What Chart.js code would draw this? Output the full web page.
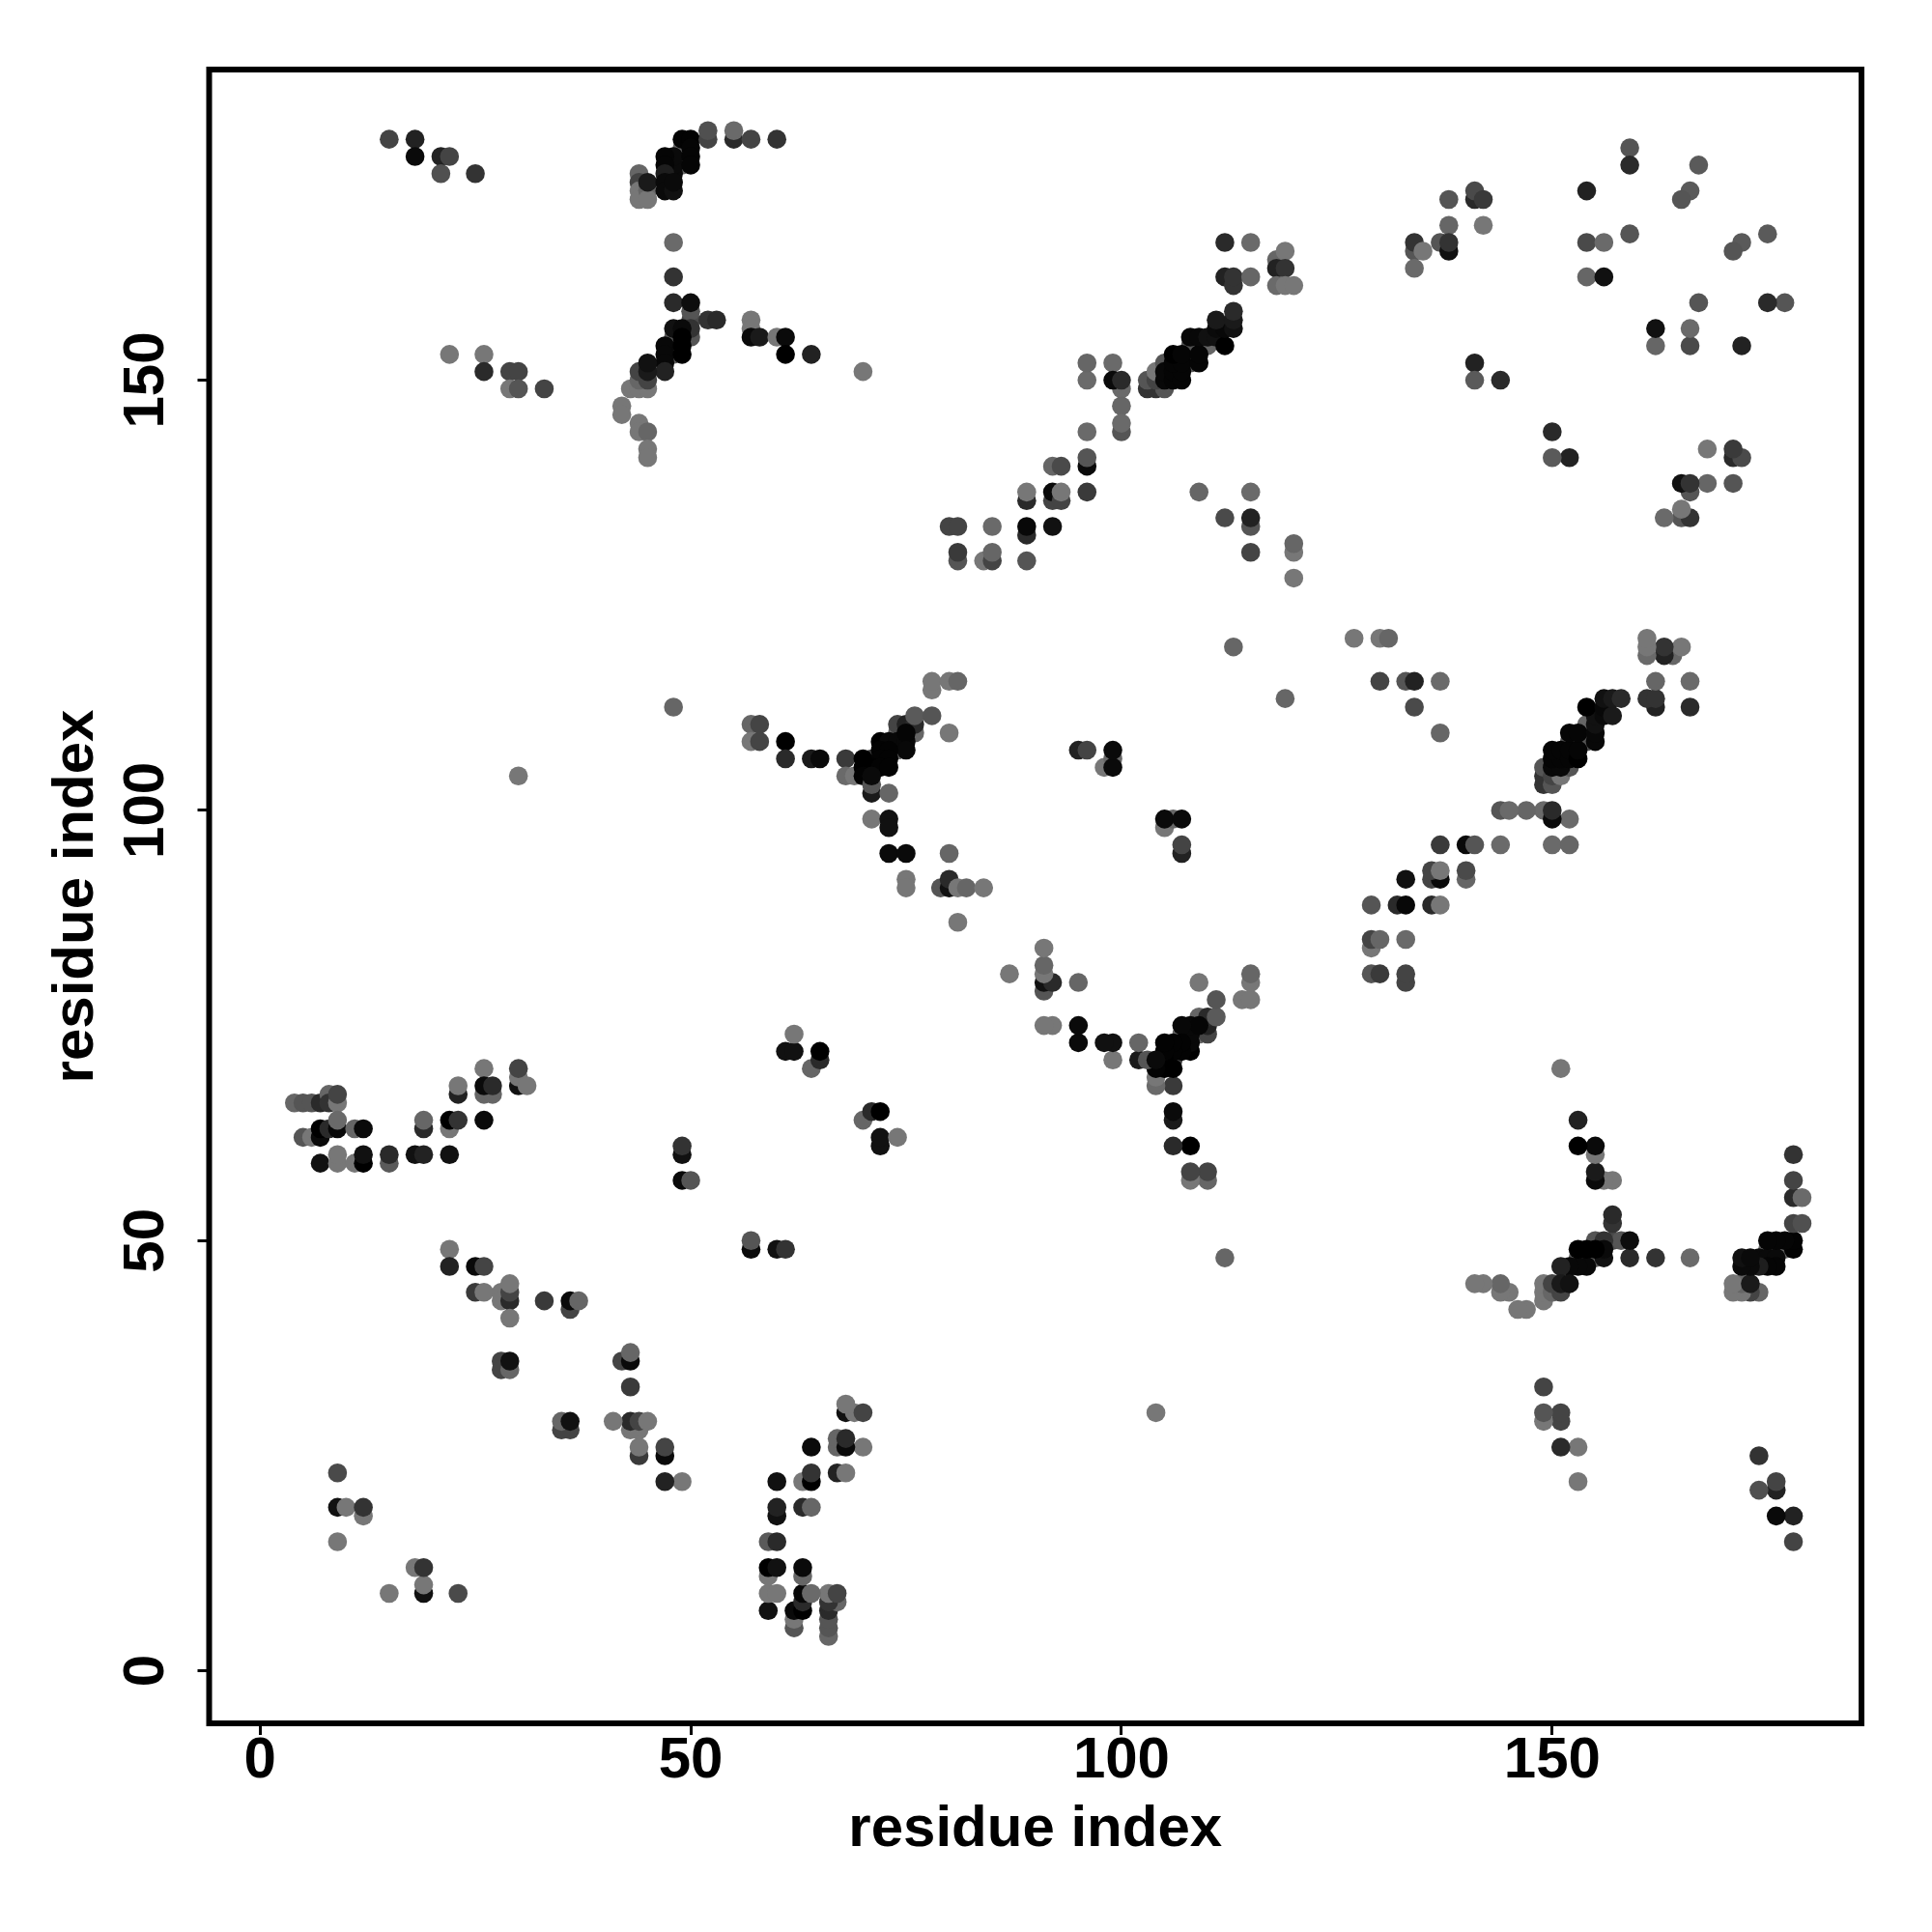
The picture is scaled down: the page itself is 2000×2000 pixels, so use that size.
<!DOCTYPE html>
<html>
<head>
<meta charset="utf-8">
<title>residue contact map</title>
<script src="https://cdn.jsdelivr.net/npm/chart.js@4/dist/chart.umd.min.js"></script>
<style>
  html, body { margin: 0; padding: 0; background: #fff; }
  canvas { display: block; }
</style>
</head>
<body>
<canvas id="contactMap" width="2000" height="2000"></canvas>
<script>
// Contact pairs, upper triangle only (i < j). The map is symmetric, so each pair is drawn both ways.
// Order matters: later points sit on top, same as in the original plot.
const contactI = [
  15,18,18,21,22,21,25,
  44,44,44,44,45,45,45,
  49,49,48,48,48,47,47,47,47,47,48,48,49,50,50,50,50,
  52,52,55,55,57,60,
  22,26,26,29,30,29,30,33,
  48,48,48,50,50,50,52,53,57,57,57,58,60,61,61,64,70,
  50,50,48,48,48,48,49,49,47,49,47,49,47,47,
  43,44,45,44,44,45,45,45,
  42,42,44,44,45,45,45,
  80,81,85,89,89,92,81,81,84,85,85,89,
  89,89,92,92,93,93,92,93,
  96,96,96,96,96,96,99,100,99,100,100,100,100,
  109,115,112,115,115,115,120,120,120,113,
  112,115,112,113,113,115,118,118,119,119,118,119,120,
  103,104,105,103,104,104,105,108,108,110,
  105,105,106,106,107,107,106,107,106,107,109,109,108,109,110,111,112,111,112,113,111,113,113,
  138,141,141,142,138,142,134,134,135,134,137,138,138,
  154,154,156,159,154,156,159,159,167,166,165,141,141,144,
  78,78,80,81,57,58,57,58,61,61,64,65,68,68,69,
  74,71,74,76,74,75,76,76,78,80,
  72,73,74,75,75,75,72,73,70,72,73,70,71,72,73,70,71,71,71,73,
  71,73,73,73,75,80,75,75,79,80,80,81,82,84,81,
  64,65,65,61,62,62,
  95,96,98,99,99,99,
  30,48,
  4,5,6,7,8,8,9,9,
  5,6,7,7,8,9,9,11,12,
  7,9,9,11,12,12,15,15,18,19,22,
  19,19,22,22,23,26,
  26,23,23,26,27,26,27,30,30,30,31,
  22,22,25,26,25,26,28,28,29,29,29,29,33,36,36,37,
  28,28,29,29,
  49,49,49,50,
  9,9,10,12,12,9
];
const contactJ = [
  178,178,176,176,176,174,174,
  174,173,172,171,172,171,173,
  177,175,174,175,176,176,175,174,173,172,172,173,178,178,177,176,175,
  178,179,178,179,178,178,
  153,153,151,151,151,149,149,149,
  166,162,159,157,158,159,157,157,157,156,155,155,155,155,153,153,151,
  155,156,155,154,153,156,156,155,154,154,153,153,152,151,
  149,149,149,150,151,150,151,152,
  147,146,145,144,144,142,141,
  133,133,133,132,133,133,129,130,129,129,130,129,
  136,137,136,137,136,137,140,140,
  140,141,137,144,150,152,152,149,150,150,147,144,145,
  137,137,134,133,134,130,130,131,127,119,
  166,166,162,161,162,162,164,163,165,163,161,161,161,
  149,149,149,150,150,151,152,154,152,154,
  150,151,150,151,150,151,152,152,153,153,152,153,155,155,155,155,154,156,156,156,157,157,158,
  171,171,172,171,168,168,165,166,165,163,166,165,166,
  172,166,166,167,162,162,177,175,175,172,171,152,150,150,
  114,115,115,115,110,110,108,108,108,106,106,106,106,104,104,
  109,106,107,109,110,110,110,111,111,109,
  108,108,108,108,109,107,107,107,106,106,106,105,105,105,105,104,102,103,104,102,
  99,99,98,95,95,95,92,91,91,91,92,91,91,91,87,
  70,71,72,72,72,74,
  107,107,105,106,105,107,
  104,112,
  66,66,66,66,67,66,66,67,
  62,62,62,63,63,63,64,63,63,
  59,59,60,59,59,60,59,60,60,60,60,
  63,64,63,64,64,64,
  70,67,68,67,67,68,68,68,69,70,68,
  49,47,47,47,44,44,44,43,43,44,45,41,43,42,43,43,
  36,35,35,36,
  60,61,57,57,
  23,19,19,18,19,15
];
// grey level of each dot, 0 = black
const contactGrey = [
  68,34,10,34,68,80,51,
  102,68,119,119,102,119,26,
  102,102,10,10,10,5,5,30,10,10,17,10,3,3,5,5,5,
  68,80,42,106,68,51,
  119,119,42,68,68,119,85,68,
  106,51,42,74,85,13,51,42,119,119,10,26,119,10,0,34,119,
  85,51,90,90,90,17,10,0,8,0,8,0,8,34,
  119,119,119,102,68,68,26,17,
  119,119,119,119,102,119,119,
  68,68,106,42,8,17,85,58,119,68,102,85,
  42,119,68,10,68,119,102,74,
  10,85,58,106,106,102,106,106,10,42,102,85,106,
  102,106,74,85,34,68,119,102,119,102,
  42,106,34,51,51,102,102,34,119,51,106,119,119,
  51,51,85,85,68,119,85,85,85,102,
  8,8,5,5,5,5,5,5,0,5,5,5,8,8,17,17,0,10,8,17,26,26,42,
  85,42,74,58,102,119,85,51,119,106,85,17,51,
  34,74,106,85,102,17,85,42,90,90,85,34,90,42,
  119,119,119,102,102,68,119,68,0,42,26,10,58,106,119,
  102,68,102,102,68,34,42,90,85,119,
  0,8,8,8,5,8,3,3,0,3,3,0,0,3,3,3,26,85,10,102,
  119,17,17,10,10,102,119,119,85,17,42,119,102,119,119,
  102,42,0,17,17,119,
  34,68,119,102,10,10,
  119,102,
  102,85,85,42,102,51,119,68,
  85,119,10,0,42,8,106,102,10,
  17,119,119,119,0,17,90,42,17,34,17,
  42,102,119,0,51,10,
  119,34,119,102,102,10,42,17,119,68,119,
  119,34,10,68,58,119,119,119,42,68,119,119,58,68,10,102,
  68,68,102,17,
  17,51,10,85,
  74,17,119,119,51,119
];
const tickValues = [0, 50, 100, 150];
const axisLabel = 'residue index';

const points = [];
const colours = [];
contactI.forEach((i, k) => {
  const g = contactGrey[k];
  points.push({ x: i, y: contactJ[k] }, { x: contactJ[k], y: i });
  colours.push(`rgb(${g},${g},${g})`, `rgb(${g},${g},${g})`);
});

const font = { family: '"Liberation Sans"', size: 60, weight: 'bold' };

// box round the plot: chart.js only strokes the axis sides
const framePlugin = {
  id: 'frame',
  afterDraw(chart) {
    const { ctx, chartArea: a } = chart;
    ctx.save();
    ctx.strokeStyle = '#000';
    ctx.lineWidth = 6;
    ctx.strokeRect(a.left, a.top, a.right - a.left, a.bottom - a.top);
    ctx.restore();
  }
};

const fixedTicks = scale => { scale.ticks = tickValues.map(value => ({ value })); };

new Chart(document.getElementById('contactMap').getContext('2d'), {
  type: 'scatter',
  data: {
    datasets: [{
      data: points,
      pointRadius: 9.8,
      pointBorderWidth: 0,
      pointBackgroundColor: colours
    }]
  },
  plugins: [framePlugin],
  options: {
    responsive: false,
    devicePixelRatio: 1,
    animation: false,
    layout: { padding: { left: 30, right: 73, top: 72, bottom: 60 } },
    plugins: { legend: { display: false }, tooltip: { enabled: false } },
    scales: {
      x: {
        min: -5.9,
        max: 185.9,
        afterBuildTicks: fixedTicks,
        afterFit: scale => { scale.height = 156; },
        border: { display: false },
        grid: { drawOnChartArea: false, tickLength: 12, tickWidth: 3, tickColor: '#000' },
        ticks: { color: '#000', font, maxRotation: 0, padding: -9, autoSkip: false },
        title: { display: true, text: axisLabel, color: '#000', font, padding: { top: 0, bottom: 10 } }
      },
      y: {
        min: -6.1,
        max: 186.1,
        afterBuildTicks: fixedTicks,
        afterFit: scale => { scale.width = 186.5; },
        border: { display: false },
        grid: { drawOnChartArea: false, tickLength: 12, tickWidth: 3, tickColor: '#000' },
        ticks: { color: '#000', font, minRotation: 90, maxRotation: 90, crossAlign: 'center', padding: 2, autoSkip: false },
        title: { display: true, text: axisLabel, color: '#000', font, padding: { top: 13, bottom: 0 } }
      }
    }
  }
});
</script>
</body>
</html>
